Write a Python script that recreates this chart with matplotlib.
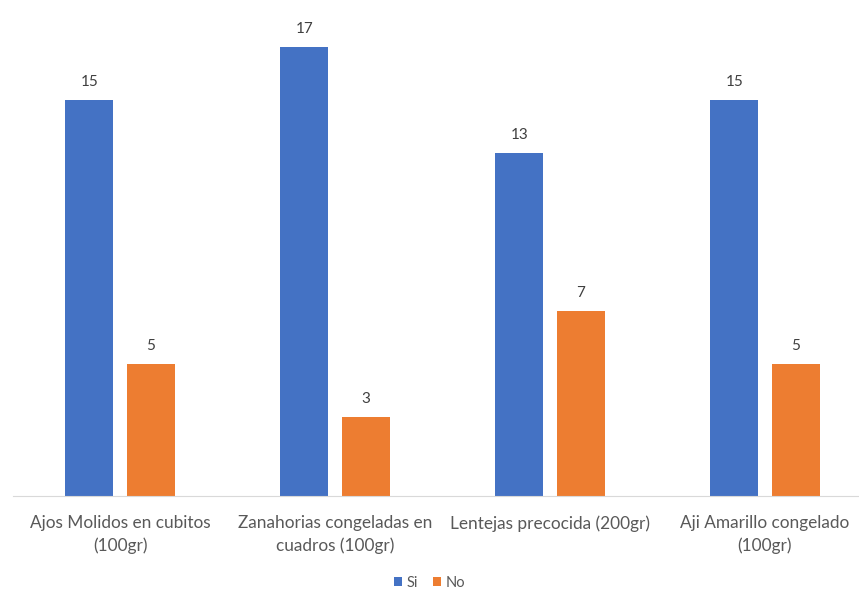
import matplotlib
matplotlib.use("Agg")
import matplotlib.pyplot as plt
import numpy as np

categories = ["Ajos Molidos en cubitos\n(100gr)", "Zanahorias congeladas en\ncuadros (100gr)",
              "Lentejas precocida (200gr)", "Aji Amarillo congelado\n(100gr)"]
si_values = [15, 17, 13, 15]
no_values = [5, 3, 7, 5]
series_names = ["Si", "No"]

plt.rcParams['font.family'] = ['Lato', 'DejaVu Sans']
W, H = 859, 592
fig = plt.figure(figsize=(W/100, H/100), dpi=100)
left_px, right_px, base_px, top_px = 12.5, 859, 496, 0
ax = fig.add_axes([left_px/W, (H-base_px)/H, (right_px-left_px)/W, (base_px-top_px)/H])

x = np.arange(len(categories))
w = 0.223
off = 0.142
blue, orange = "#4472C4", "#ED7D31"
b1 = ax.bar(x - off, si_values, w, color=blue, label=series_names[0])
b2 = ax.bar(x + off, no_values, w, color=orange, label=series_names[1])

ax.set_xlim(-0.5, -0.5 + (right_px-left_px)/215)
ax.set_ylim(0, (base_px-top_px)/26.41)

for bars, vals in ((b1, si_values), (b2, no_values)):
    for r, v in zip(bars, vals):
        ax.annotate(str(v), (r.get_x()+r.get_width()/2, v), xytext=(0, 8), textcoords='offset points',
                    ha='center', va='bottom', fontsize=11, color='#404040')

for s in ['top', 'right', 'left']:
    ax.spines[s].set_visible(False)
ax.spines['bottom'].set_color('#D9D9D9')
ax.set_yticks([])
ax.set_xticks(x)
ax.set_xticklabels(categories, fontsize=12.4, color='#595959', linespacing=1.45)
ax.tick_params(axis='x', length=0, pad=14)

fig.legend(handles=[b1, b2], labels=series_names, loc='center', bbox_to_anchor=(0.5, (H-583)/H),
           ncol=2, frameon=False, fontsize=10.5, labelcolor='#595959', handlelength=0.6, handleheight=0.6,
           handletextpad=0.3, columnspacing=1.0)

fig.savefig("out.png", dpi=100)
